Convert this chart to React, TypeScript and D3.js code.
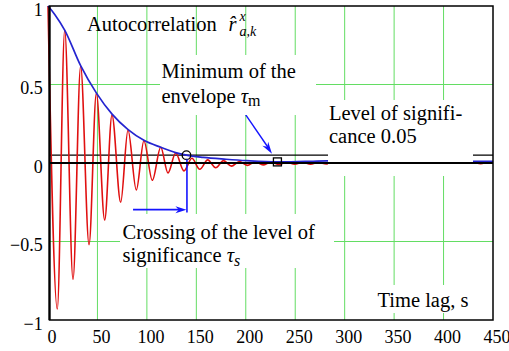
import React from "react";
import * as d3 from "d3";

// autocorrelation estimate at its peaks and troughs
const redLag = [0, 9.4, 16.9, 25.3, 33, 41.5, 48.9, 57.3, 64.7, 73.5, 80.9, 89.3, 97, 105.5, 114, 121.3, 129.1, 137.5, 145.5, 153.5, 161.5, 169.5, 177.5, 185.5, 193.5, 201.5, 209.5, 217.5, 225.5, 233.5, 241.5, 249.5, 257.5, 265.5, 273.5, 281.5, 289.5, 421.5, 429.5, 437.5, 445.5, 450];
const redValue = [1, -0.93, 0.847, -0.741, 0.618, -0.52, 0.444, -0.363, 0.306, -0.25, 0.21, -0.172, 0.142, -0.11, 0.1, -0.064, 0.064, -0.05, 0.03, -0.04, 0.02, -0.03, 0.015, -0.02, 0.01, -0.015, 0.008, -0.012, 0.006, -0.01, 0.005, -0.008, 0.004, -0.007, 0.004, -0.006, 0.003, -0.004, 0.004, -0.004, 0.004, 0.002];

// upper envelope
const envLag = [0, 7, 17, 33, 49, 65, 81, 97, 114, 129, 140, 157, 180, 201, 232, 260, 282, 430, 450];
const envValue = [1, 0.945, 0.845, 0.62, 0.445, 0.31, 0.213, 0.145, 0.1, 0.066, 0.05, 0.036, 0.024, 0.015, 0.007, 0.01, 0.013, 0.01, 0.01];

const significance = 0.05;
const tauS = 140; // crossing of the level
const tauM = 232; // minimum of the envelope
const tauMValue = 0.007;

const xTicks = [0, 50, 100, 150, 200, 250, 300, 350, 400, 450];
const yTicks = [1, 0.5, 0, -0.5, -1];
const yTickLabels = ["1", "0.5", "0", "\u22120.5", "\u22121"];

const W = 509;
const H = 351;
const FONT = "Liberation Serif, DejaVu Serif, serif";
const GREEN = "#63dd63";
const RED = "#e01010";
const BLUE = "#2424d0";
const ARROW = "#1414ff";

function arrowHead(x1: number, y1: number, x2: number, y2: number, len = 11, half = 3.5) {
  const a = Math.atan2(y2 - y1, x2 - x1);
  const bx = x2 - len * Math.cos(a);
  const by = y2 - len * Math.sin(a);
  const nx = -Math.sin(a) * half;
  const ny = Math.cos(a) * half;
  const mx = x2 - len * 0.7 * Math.cos(a);
  const my = y2 - len * 0.7 * Math.sin(a);
  return `M${x2},${y2}L${bx + nx},${by + ny}L${mx},${my}L${bx - nx},${by - ny}Z`;
}

export default function App() {
  const x = d3.scaleLinear().domain([0, 450]).range([48, 493]);
  const y = d3.scaleLinear().domain([-1, 1]).range([320, 6]);

  const redPts = redLag.map((l, i) => [l, redValue[i]] as [number, number]);
  const envPts = envLag.map((l, i) => [l, envValue[i]] as [number, number]);

  const line = d3
    .line<[number, number]>()
    .x((d) => x(d[0]))
    .y((d) => y(d[1]))
    .curve(d3.curveMonotoneX);

  const left = x(0) + 1.5;
  const right = x(450);

  // arrows in data coordinates
  const a1 = { x1: x(86), y1: y(-0.297), x2: x(tauS), y2: y(-0.297) };
  const a2 = { x1: x(200), y1: y(0.307), x2: x(226.5), y2: y(0.059) };

  const txt: React.CSSProperties = { fontFamily: FONT };

  return (
    <svg width={W} height={H} style={{ position: "absolute", left: 0, top: 0, background: "#fff" }}>
      {/* grid */}
      <g stroke={GREEN} strokeWidth={1}>
        {xTicks.slice(1, -1).map((t) => (
          <line key={"gx" + t} x1={x(t)} x2={x(t)} y1={y(1)} y2={y(-1)} />
        ))}
        {[0.5, -0.5].map((t) => (
          <line key={"gy" + t} x1={left} x2={right} y1={y(t)} y2={y(t)} />
        ))}
      </g>

      {/* level of significance */}
      <line x1={left} x2={right} y1={y(significance)} y2={y(significance)} stroke="#000" strokeWidth={1.4} />

      <path d={line(redPts) ?? ""} fill="none" stroke={RED} strokeWidth={1.6} />
      <path d={line(envPts) ?? ""} fill="none" stroke={BLUE} strokeWidth={1.7} />

      {/* markers */}
      <circle cx={x(tauS)} cy={y(significance)} r={4.3} fill="none" stroke="#000" strokeWidth={1.3} />
      <rect x={x(tauM) - 4} y={y(tauMValue) - 4} width={8} height={8} fill="none" stroke="#000" strokeWidth={1.3} />

      {/* tau_s drop line and arrow */}
      <line x1={x(tauS) + 0.5} x2={x(tauS) + 0.5} y1={y(significance) + 4} y2={y(-0.315)} stroke={ARROW} strokeWidth={1.6} />
      <line x1={a1.x1} y1={a1.y1} x2={a1.x2 - 6} y2={a1.y2} stroke={ARROW} strokeWidth={1.6} />
      <path d={arrowHead(a1.x1, a1.y1, a1.x2, a1.y2)} fill={ARROW} />
      <line x1={a2.x1} y1={a2.y1} x2={a2.x2 - 3} y2={a2.y2 - 5} stroke={ARROW} strokeWidth={1.4} />
      <path d={arrowHead(a2.x1, a2.y1, a2.x2, a2.y2, 12, 3.5)} fill={ARROW} />

      {/* text boxes mask what lies behind them */}
      <g fill="#fff">
        <rect x={160} y={55} width={156} height={60} />
        <rect x={120} y={214} width={214} height={54} />
        <rect x={328} y={100} width={145} height={76} />
        <rect x={373} y={285} width={97} height={28} />
      </g>

      {/* zero axis and frame */}
      <line x1={left} x2={right} y1={y(0)} y2={y(0)} stroke="#000" strokeWidth={2} />
      <rect x={left} y={y(1)} width={right - left} height={y(-1) - y(1)} fill="none" stroke="#000" strokeWidth={1.5} />
      <line x1={left} x2={left} y1={y(1)} y2={y(-1)} stroke="#000" strokeWidth={2.2} />

      {/* tick labels */}
      <g fontSize={18} fill="#000" style={txt}>
        {yTicks.map((t, i) => (
          <text key={"yl" + t} x={42.7} y={y(t) + 9.5} textAnchor="end" style={txt}>
            {yTickLabels[i]}
          </text>
        ))}
        {xTicks.map((t) => (
          <text key={"xl" + t} x={x(t) + 4} y={342.5} textAnchor="middle" style={txt}>
            {t}
          </text>
        ))}
      </g>

      {/* annotations */}
      <g fontSize={20.5} fill="#000" style={txt}>
        <text x={87} y={31} style={txt}>
          Autocorrelation
          <tspan x={228.5} fontStyle="italic">{"r\u0302"}</tspan>
          <tspan x={239.5} y={21} fontSize={14} fontStyle="italic">x</tspan>
          <tspan x={239.5} y={36} fontSize={14} fontStyle="italic">a,k</tspan>
        </text>

        <text x={161.5} y={78} style={txt}>Minimum of the</text>
        <text x={161.5} y={103} style={txt}>
          envelope <tspan fontStyle="italic">τ</tspan>
          <tspan fontSize={16} dy={3}>m</tspan>
        </text>

        <text x={329} y={120} style={txt}>Level of signifi-</text>
        <text x={329} y={143} style={txt}>cance 0.05</text>

        <text x={122.5} y={238.5} style={txt}>Crossing of the level of</text>
        <text x={122.5} y={261.5} style={txt}>
          significance <tspan fontStyle="italic">τ</tspan>
          <tspan fontSize={16} fontStyle="italic" dy={4}>s</tspan>
        </text>

        <text x={377.5} y={307} style={txt}>Time lag, s</text>
      </g>
    </svg>
  );
}
